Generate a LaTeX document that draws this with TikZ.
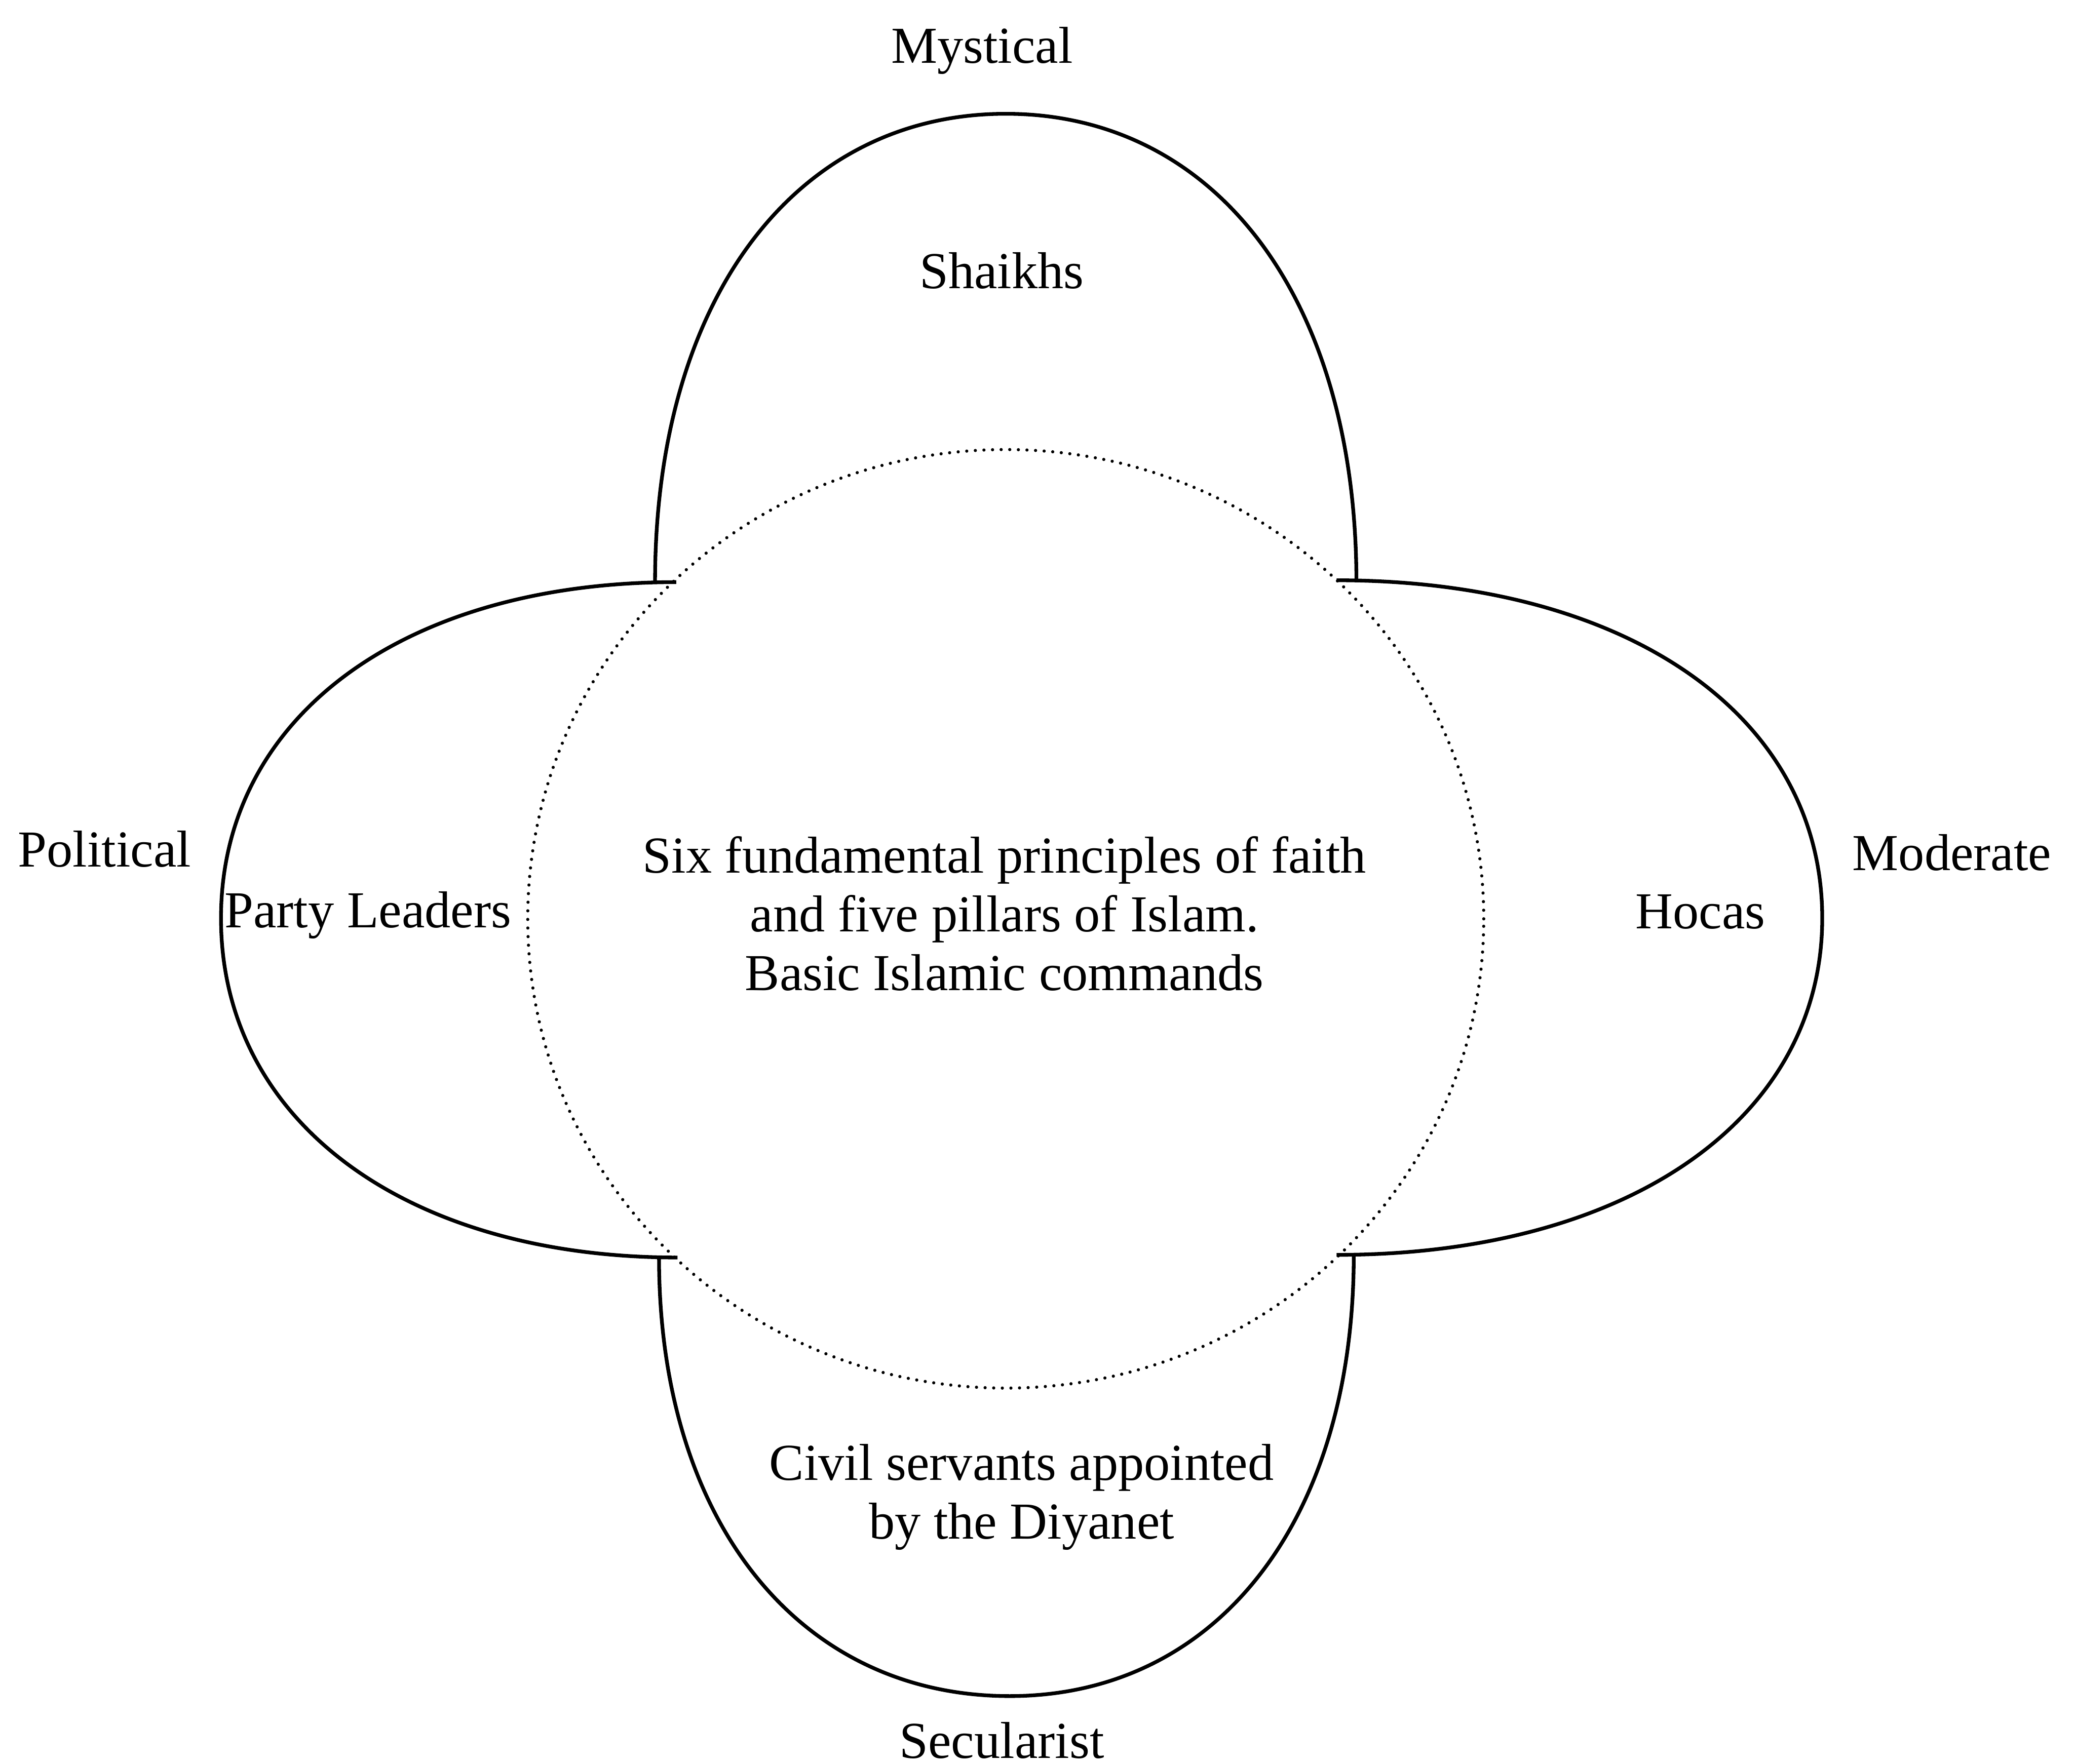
\documentclass[tikz,border=0pt]{standalone}
\usepackage{fontspec}
\setmainfont{Liberation Serif}
\begin{document}
\begin{tikzpicture}[x=0.01cm,y=-0.01cm,
  petal/.style={draw=black,line width=0.028cm,line join=round},
  core/.style={draw=black,line width=0.024cm,line cap=round,dash pattern=on 0pt off 0.065cm},
  lbl/.style={font=\fontsize{11.15}{12.6}\selectfont,inner sep=0pt,anchor=base,align=center}]
\useasboundingbox (0,0) rectangle (1568,1333);

% joints where the side lobes meet the central circle
\coordinate (jtl) at (511,440);
\coordinate (jtr) at (1010,438.6);
\coordinate (jbl) at (512,950.5);
\coordinate (jbr) at (1010,948.5);

% top lobe
\draw[petal] (495,440) .. controls (495,226) and (601,86) .. (760,86)
                       .. controls (919,86) and (1025,226) .. (1025,440);
% bottom lobe
\draw[petal] (498,950.5) .. controls (498,1150) and (604,1282) .. (763,1282)
                         .. controls (919,1282) and (1023,1150) .. (1023,948.5);
% left lobe
\draw[petal] (jtl) .. controls (305,440) and (167,542) .. (167,694)
                   .. controls (167,847) and (306,950.5) .. (jbl);
% right lobe
\draw[petal] (jtr) .. controls (1230,438.6) and (1377,541) .. (1377,694)
                   .. controls (1377,846) and (1230,948.5) .. (jbr);

% central dotted circle
\draw[core] (760,694.5) ellipse [x radius=3.61cm, y radius=3.545cm];

% labels (multi-line labels are placed by the baseline of their last line)
\node[lbl] (mystical) at (742,47.8) {Mystical};
\node[lbl] (shaikhs) at (757,218) {Shaikhs};
\node[lbl] (political) at (79,655) {Political};
\node[lbl] (party) at (278,701) {Party Leaders};
\node[lbl] (moderate) at (1475,658) {Moderate};
\node[lbl] (hocas) at (1285,701.7) {Hocas};
\node[lbl] (faith) at (759,748.5) {Six fundamental principles of faith\\and five pillars of Islam.\\Basic Islamic commands};
\node[lbl] (civil) at (772,1163) {Civil servants appointed\\by the Diyanet};
\node[lbl] (secularist) at (757,1329) {Secularist};
\end{tikzpicture}
\end{document}
